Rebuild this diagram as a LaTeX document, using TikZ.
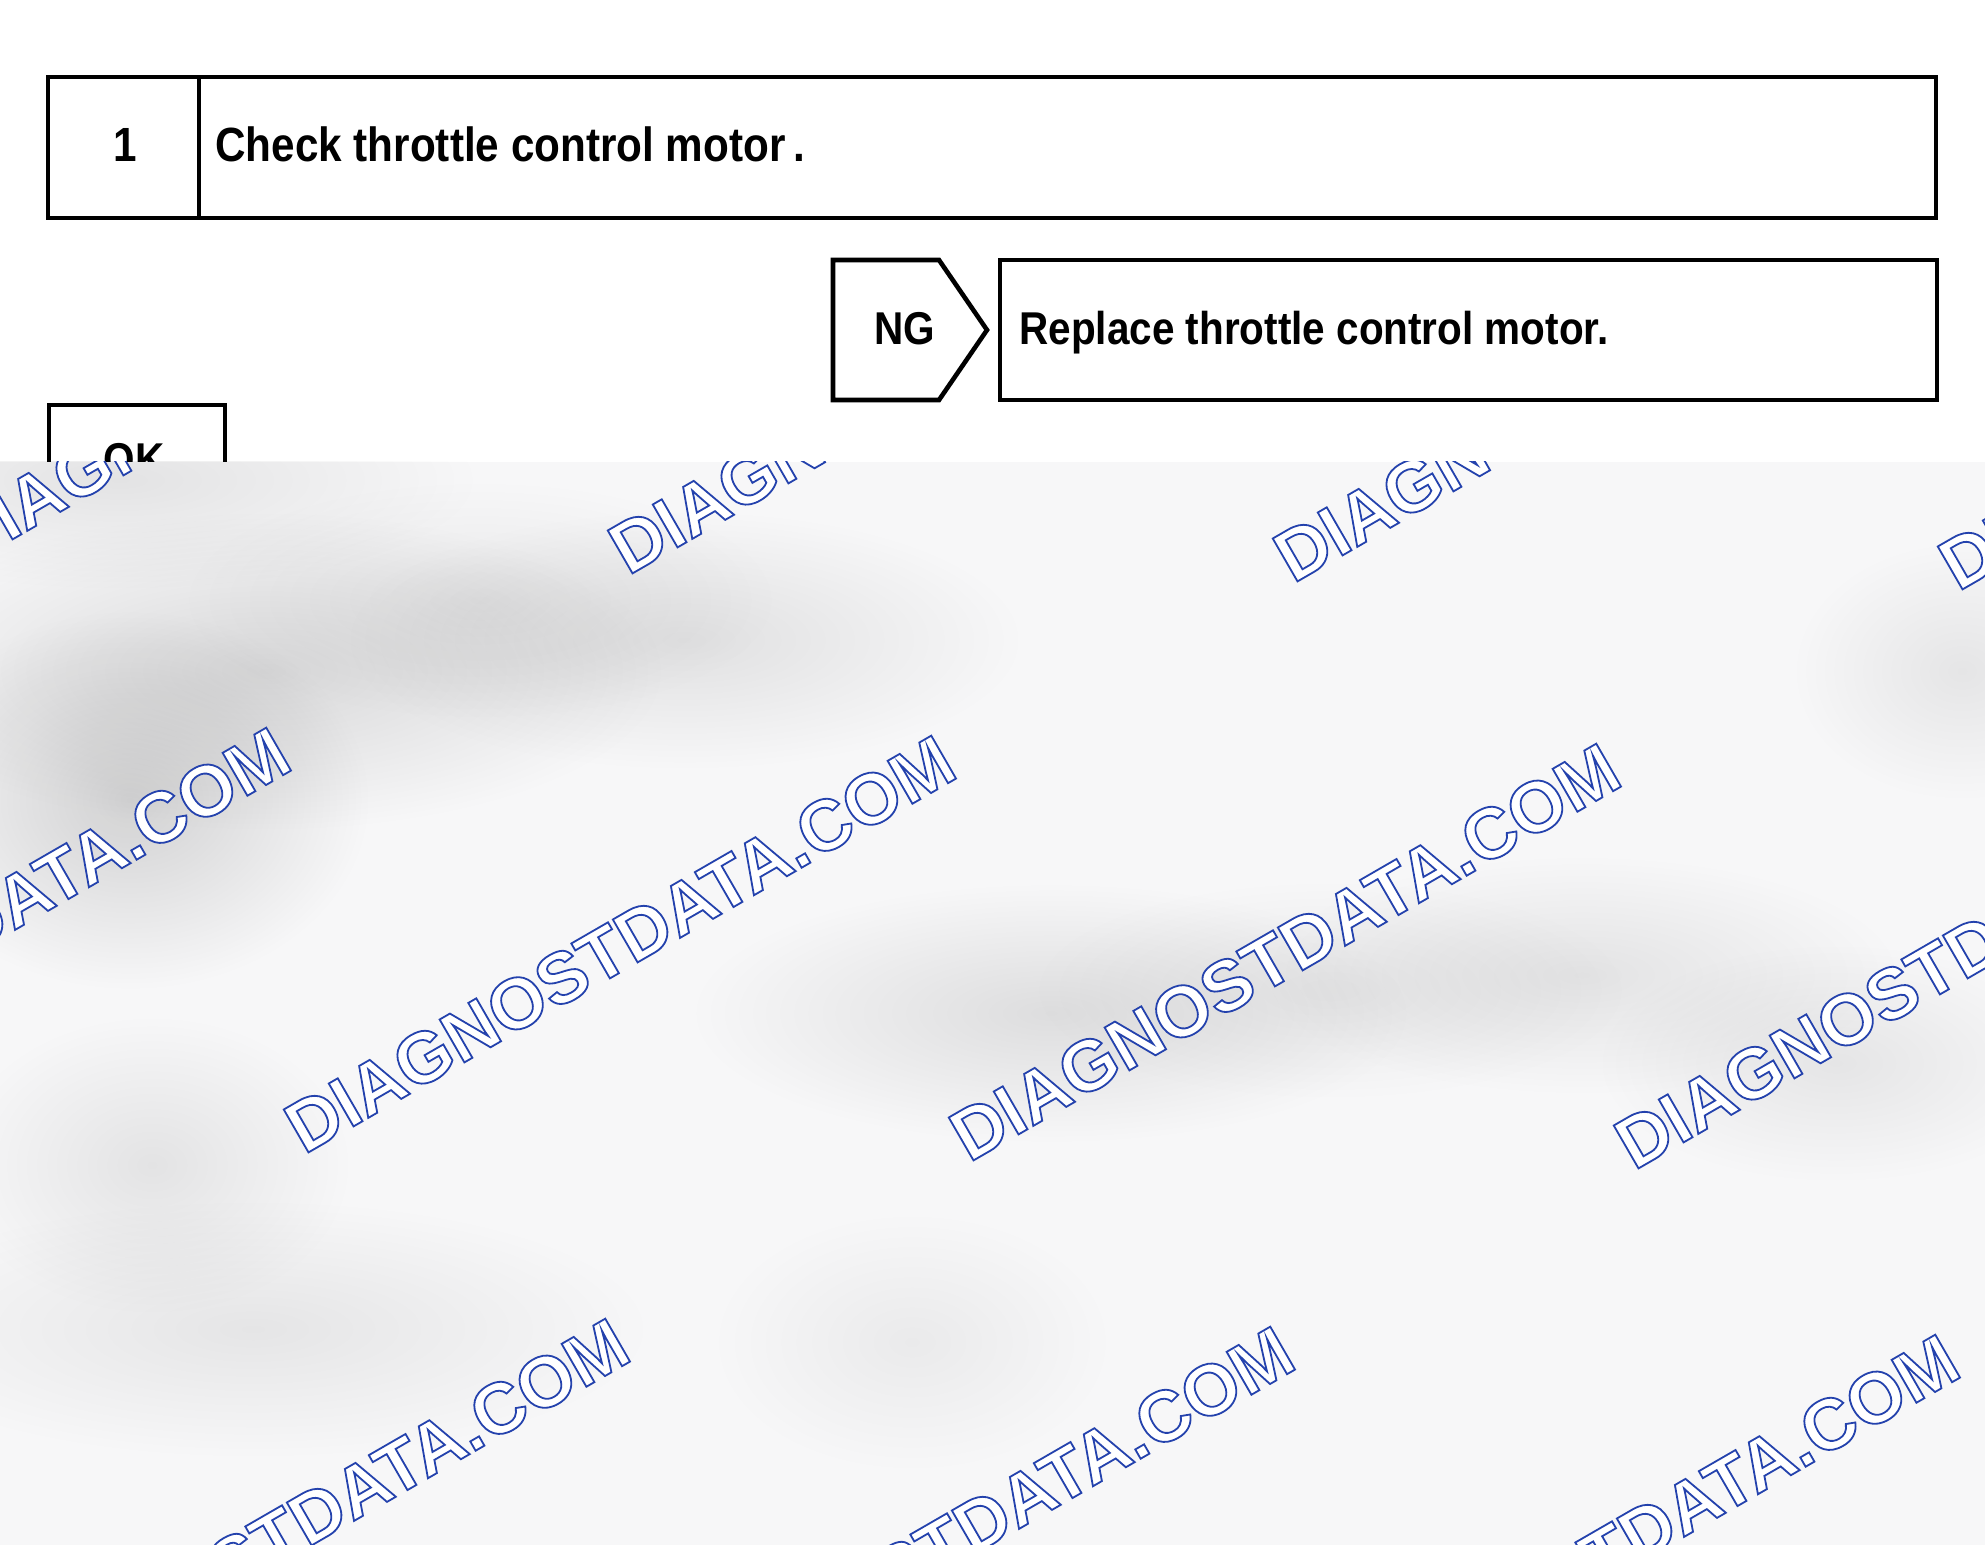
\documentclass[tikz,border=0pt]{standalone}
\usepackage{fontspec}
\setmainfont{Liberation Sans}
\newfontfamily\boxfont[FakeStretch=0.88]{Liberation Sans}
\newfontfamily\wmfont{Liberation Sans}
\usetikzlibrary{fadings}
\tikzfading[name=blobfade, inner color=transparent!0, outer color=transparent!100]
\definecolor{ovl}{RGB}{247,247,248}
\newcommand\wmstring{\special{pdf:literal direct 2 Tr 0.9 w 0.14 0.26 0.68 RG 1 1 1 rg}DIAGNOSTDATA.COM\special{pdf:literal direct 0 Tr 0 g 0 G}}
\begin{document}
\begin{tikzpicture}[x=0.5pt,y=-0.5pt,
  frame/.style={draw=black,line width=2.3pt,line join=miter},
  lbl/.style={inner sep=0pt,font={\fontsize{23}{27}\boxfont\bfseries}},
  biglbl/.style={inner sep=0pt,font={\fontsize{24}{28}\boxfont\bfseries}},
  blob/.style={fill=black,path fading=blobfade},
  wm/.style={inner sep=0pt,anchor=base west,rotate=30,font={\fontsize{36}{38}\wmfont\bfseries}}]
\useasboundingbox (0,0) rectangle (1985,1545);
\fill[white] (0,0) rectangle (1985,1545);

% step 1 box
\coordinate (tA) at (48,77);
\coordinate (tB) at (1936,218);
\coordinate (tD1) at (199,77);
\coordinate (tD2) at (199,218);
\draw[frame] (tA) rectangle (tB);
\draw[frame] (tD1) -- (tD2);
\node[biglbl, anchor=base] (num) at (125,162) {1};
\node[biglbl, anchor=base west] (check) at (215,162) {Check throttle control motor\,.};

% NG pentagon
\coordinate (ngA) at (833,260);
\coordinate (ngB) at (939,260);
\coordinate (ngT) at (987,330);
\coordinate (ngC) at (939,400);
\coordinate (ngD) at (833,400);
\draw[frame] (ngA) -- (ngB) -- (ngT) -- (ngC) -- (ngD) -- cycle;
\node[lbl, anchor=base] (ng) at (905,345) {NG};

% replace box
\coordinate (rA) at (1000,260);
\coordinate (rB) at (1937,400);
\draw[frame] (rA) rectangle (rB);
\node[lbl, anchor=base west] (repl) at (1019,345) {Replace throttle control motor.};

% OK box
\coordinate (okA) at (49,405);
\coordinate (okB) at (225,600);
\draw[frame] (okA) rectangle (okB);
\node[lbl, anchor=base] (ok) at (134,476) {OK};

% overlay
\begin{scope}
\clip (0,462) rectangle (1985,1545);
\fill[ovl] (0,462) rectangle (1985,1545);
\fill[blob, fill opacity=0.08] (120,480) ellipse [x radius=360, y radius=110];
\fill[blob, fill opacity=0.12] (266,671) ellipse [x radius=400, y radius=160];
\fill[blob, fill opacity=0.09] (684,640) ellipse [x radius=340, y radius=130];
\fill[blob, fill opacity=0.06] (480,600) ellipse [x radius=300, y radius=120];
\fill[blob, fill opacity=0.15] (130,800) ellipse [x radius=240, y radius=190];
\fill[blob, fill opacity=0.10] (1051,1013) ellipse [x radius=360, y radius=130];
\fill[blob, fill opacity=0.08] (1582,975) ellipse [x radius=320, y radius=120];
\fill[blob, fill opacity=0.06] (1330,990) ellipse [x radius=300, y radius=110];
\fill[blob, fill opacity=0.07] (1962,671) ellipse [x radius=170, y radius=130];
\fill[blob, fill opacity=0.07] (1836,1063) ellipse [x radius=240, y radius=120];
\fill[blob, fill opacity=0.08] (152,1165) ellipse [x radius=200, y radius=150];
\fill[blob, fill opacity=0.07] (253,1329) ellipse [x radius=400, y radius=130];
\fill[blob, fill opacity=0.05] (912,1342) ellipse [x radius=200, y radius=130];
% watermarks
\node[wm] (wma) at (-37,568) {\wmstring};
\node[wm] (wmb) at (628,576) {\wmstring};
\node[wm] (wmc) at (1293,584) {\wmstring};
\node[wm] (wmd) at (1958,592) {\wmstring};
\node[wm] (wme) at (-361,1147) {\wmstring};
\node[wm] (wmf) at (304,1155) {\wmstring};
\node[wm] (wmg) at (969,1163) {\wmstring};
\node[wm] (wmh) at (1634,1171) {\wmstring};
\node[wm] (wmi) at (-687,1730) {\wmstring};
\node[wm] (wmj) at (-22,1738) {\wmstring};
\node[wm] (wmk) at (643,1746) {\wmstring};
\node[wm] (wml) at (1308,1754) {\wmstring};
\end{scope}
\end{tikzpicture}
\end{document}
